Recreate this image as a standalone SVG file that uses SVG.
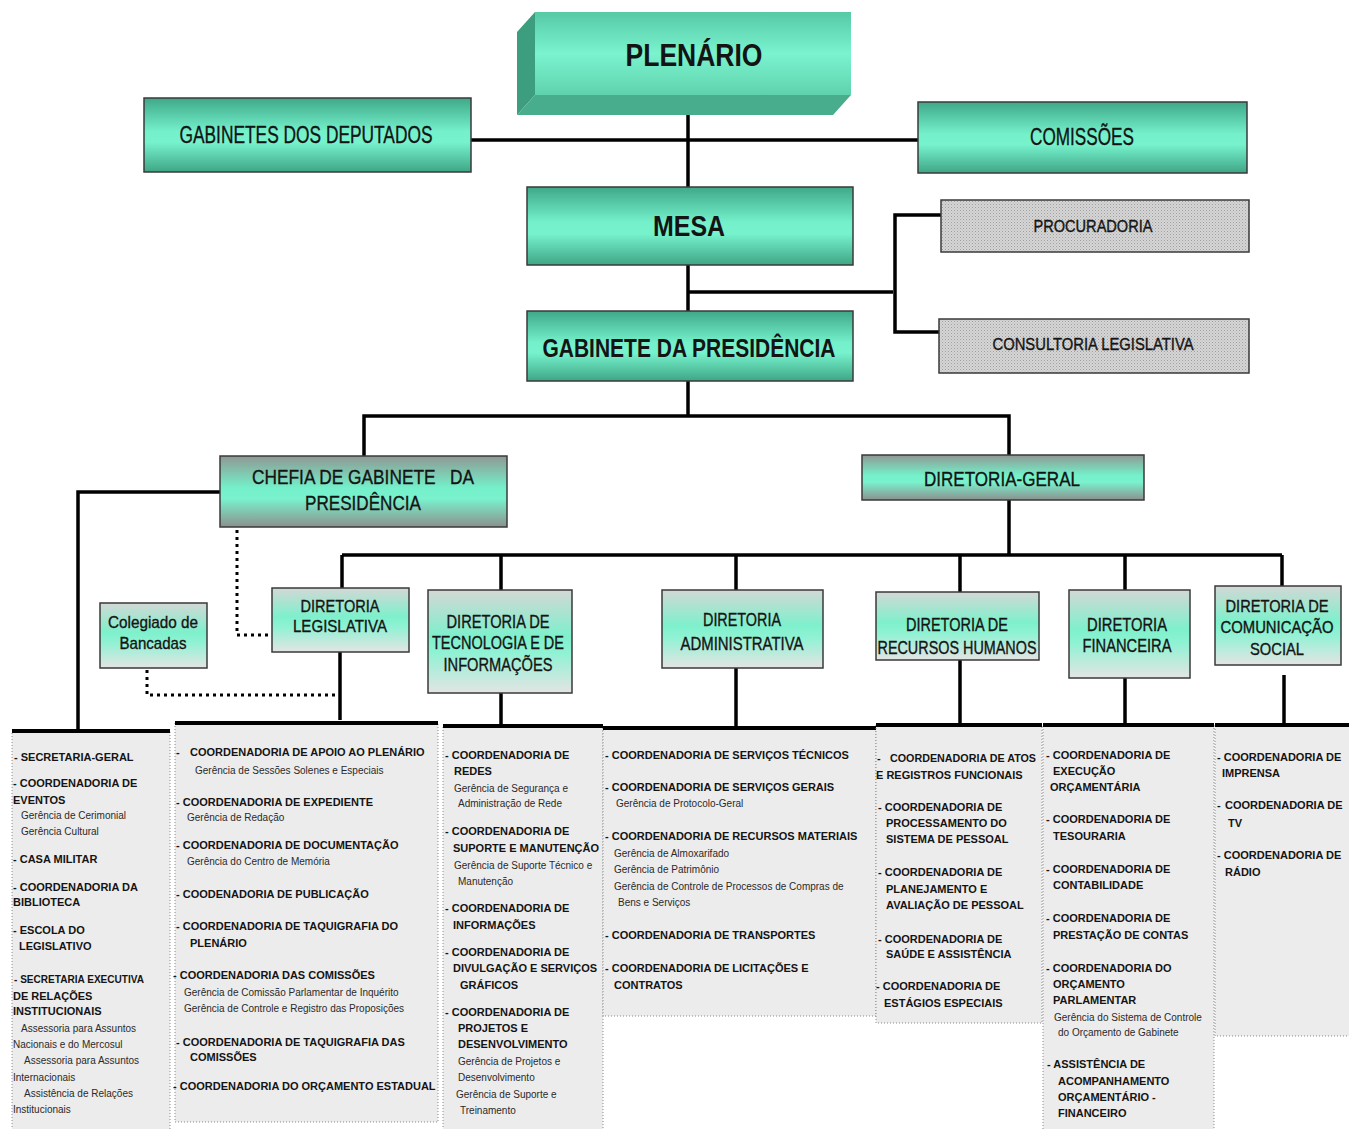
<svg xmlns="http://www.w3.org/2000/svg" width="1349" height="1129" viewBox="0 0 1349 1129">
<style>
text{font-family:"Liberation Sans",Arial,sans-serif;fill:#141414}
.hd{text-anchor:middle;stroke:#141414;stroke-width:0.35}
.bb{font-weight:bold;stroke:none}
.b{font-weight:bold;font-size:11px}
.g{font-size:10px;fill:#2a2a2a}
.box{stroke:#3a3a3a;stroke-width:1.5}
.c{fill:none;stroke:#000;stroke-width:3.5}
.d{fill:none;stroke:#000;stroke-width:3;stroke-dasharray:3 4}
.col{fill:#ececec;stroke:#8a8a8a;stroke-width:1;stroke-dasharray:1 2}
.top{stroke:#000;stroke-width:4}
</style>
<defs>
<linearGradient id="gTop" x1="0" y1="0" x2="0" y2="1">
<stop offset="0" stop-color="#3fa889"/><stop offset="0.45" stop-color="#74f0ca"/><stop offset="0.6" stop-color="#76f2cc"/><stop offset="1" stop-color="#3fa585"/>
</linearGradient>
<linearGradient id="gPl" x1="0" y1="0" x2="0" y2="1">
<stop offset="0" stop-color="#56c9a5"/><stop offset="0.5" stop-color="#7af3ce"/><stop offset="1" stop-color="#5fd2ad"/>
</linearGradient>
<linearGradient id="gMid" x1="0" y1="0" x2="0" y2="1">
<stop offset="0" stop-color="#8f9893"/><stop offset="0.45" stop-color="#74f0ca"/><stop offset="0.6" stop-color="#79f2cd"/><stop offset="1" stop-color="#8c908e"/>
</linearGradient>
<linearGradient id="gLow" x1="0" y1="0" x2="0" y2="1">
<stop offset="0" stop-color="#d3d8d5"/><stop offset="0.45" stop-color="#7ef0cc"/><stop offset="0.6" stop-color="#8ef2d3"/><stop offset="1" stop-color="#e4e4e4"/>
</linearGradient>
<pattern id="dots" width="3" height="3" patternUnits="userSpaceOnUse">
<rect width="3" height="3" fill="#d6d6d6"/><rect width="1" height="1" fill="#9e9e9e"/><rect x="1.5" y="1.5" width="1" height="1" fill="#b0b0b0"/>
</pattern>
</defs>

<g id="connectors">
<line class="c" x1="688" y1="112" x2="688" y2="187"/>
<line class="c" x1="471" y1="140" x2="918" y2="140"/>
<line class="c" x1="688" y1="265" x2="688" y2="311"/>
<line class="c" x1="688" y1="292" x2="893" y2="292"/>
<polyline class="c" points="941,215 895,215 895,332 939,332"/>
<line class="c" x1="688" y1="381" x2="688" y2="416"/>
<polyline class="c" points="364,456 364,416 1009,416 1009,455"/>
<polyline class="c" points="220,492 78,492 78,729"/>
<polyline class="d" points="237,530 237,635 270,635"/>
<line class="c" x1="1009" y1="500" x2="1009" y2="555"/>
<line class="c" x1="342" y1="555" x2="1282" y2="555"/>
<line class="c" x1="342" y1="555" x2="342" y2="588"/>
<line class="c" x1="501" y1="555" x2="501" y2="590"/>
<line class="c" x1="736" y1="555" x2="736" y2="590"/>
<line class="c" x1="960" y1="555" x2="960" y2="592"/>
<line class="c" x1="1125" y1="555" x2="1125" y2="590"/>
<line class="c" x1="1282" y1="555" x2="1282" y2="586"/>
<polyline class="d" points="147,670 147,695 336,695"/>
<line class="c" x1="340" y1="652" x2="340" y2="720"/>
<line class="c" x1="501" y1="693" x2="501" y2="725"/>
<line class="c" x1="736" y1="668" x2="736" y2="727"/>
<line class="c" x1="960" y1="660" x2="960" y2="724"/>
<line class="c" x1="1125" y1="678" x2="1125" y2="725"/>
<line class="c" x1="1284" y1="675" x2="1284" y2="725"/>
</g>

<g id="plenario">
<polygon points="535,12 517,32 517,115 535,95" fill="#3c9e7f"/>
<polygon points="535,95 851,95 833,115 517,115" fill="#47ad8c"/>
<rect x="535" y="12" width="316" height="83" fill="url(#gPl)"/>
<text class="hd bb" x="694" y="66" font-size="31" textLength="137" lengthAdjust="spacingAndGlyphs">PLENÁRIO</text>
</g>

<g id="gabinetes-deputados">
<rect class="box" x="144" y="98" width="327" height="74" fill="url(#gTop)"/>
<text class="hd" x="306" y="143" font-size="23" textLength="253" lengthAdjust="spacingAndGlyphs">GABINETES DOS DEPUTADOS</text>
</g>

<g id="comissoes">
<rect class="box" x="918" y="102" width="329" height="71" fill="url(#gTop)"/>
<text class="hd" x="1082" y="145" font-size="23" textLength="104" lengthAdjust="spacingAndGlyphs">COMISSÕES</text>
</g>

<g id="mesa">
<rect class="box" x="527" y="187" width="326" height="78" fill="url(#gTop)"/>
<text class="hd bb" x="689" y="236" font-size="29" textLength="72" lengthAdjust="spacingAndGlyphs">MESA</text>
</g>

<g id="procuradoria">
<rect class="box" x="941" y="200" width="308" height="52" fill="url(#dots)" stroke-width="1"/>
<text class="hd" x="1093" y="232" font-size="16" textLength="119" lengthAdjust="spacingAndGlyphs">PROCURADORIA</text>
</g>

<g id="consultoria">
<rect class="box" x="939" y="319" width="310" height="54" fill="url(#dots)" stroke-width="1"/>
<text class="hd" x="1093" y="350" font-size="16" textLength="201" lengthAdjust="spacingAndGlyphs">CONSULTORIA LEGISLATIVA</text>
</g>

<g id="gabinete-presidencia">
<rect class="box" x="527" y="311" width="326" height="70" fill="url(#gTop)"/>
<text class="hd bb" x="689" y="357" font-size="26" textLength="293" lengthAdjust="spacingAndGlyphs">GABINETE DA PRESIDÊNCIA</text>
</g>

<g id="chefia">
<rect class="box" x="220" y="456" width="287" height="71" fill="url(#gMid)"/>
<text class="hd" x="363" y="484" font-size="21" textLength="222" lengthAdjust="spacingAndGlyphs" style="white-space:pre">CHEFIA DE GABINETE   DA</text>
<text class="hd" x="363" y="510" font-size="21" textLength="116" lengthAdjust="spacingAndGlyphs">PRESIDÊNCIA</text>
</g>

<g id="diretoria-geral">
<rect class="box" x="862" y="455" width="282" height="45" fill="url(#gMid)"/>
<text class="hd" x="1002" y="486" font-size="21" textLength="156" lengthAdjust="spacingAndGlyphs">DIRETORIA-GERAL</text>
</g>

<g id="colegiado">
<rect class="box" x="100" y="603" width="107" height="65" fill="url(#gLow)"/>
<text class="hd" x="153" y="628" font-size="17" textLength="90" lengthAdjust="spacingAndGlyphs">Colegiado de</text>
<text class="hd" x="153" y="649" font-size="17" textLength="67" lengthAdjust="spacingAndGlyphs">Bancadas</text>
</g>

<g id="dir-legislativa">
<rect class="box" x="272" y="588" width="137" height="64" fill="url(#gLow)"/>
<text class="hd" x="340" y="612" font-size="17" textLength="79" lengthAdjust="spacingAndGlyphs">DIRETORIA</text>
<text class="hd" x="340" y="632" font-size="17" textLength="94" lengthAdjust="spacingAndGlyphs">LEGISLATIVA</text>
</g>

<g id="dir-tecnologia">
<rect class="box" x="428" y="590" width="144" height="103" fill="url(#gLow)"/>
<text class="hd" x="498" y="628" font-size="18" textLength="103" lengthAdjust="spacingAndGlyphs">DIRETORIA DE</text>
<text class="hd" x="498" y="649" font-size="18" textLength="132" lengthAdjust="spacingAndGlyphs">TECNOLOGIA E DE</text>
<text class="hd" x="498" y="671" font-size="18" textLength="109" lengthAdjust="spacingAndGlyphs">INFORMAÇÕES</text>
</g>

<g id="dir-administrativa">
<rect class="box" x="662" y="590" width="161" height="78" fill="url(#gLow)"/>
<text class="hd" x="742" y="626" font-size="18" textLength="78" lengthAdjust="spacingAndGlyphs">DIRETORIA</text>
<text class="hd" x="742" y="650" font-size="18" textLength="123" lengthAdjust="spacingAndGlyphs">ADMINISTRATIVA</text>
</g>

<g id="dir-rh">
<rect class="box" x="876" y="592" width="163" height="68" fill="url(#gLow)"/>
<text class="hd" x="957" y="631" font-size="18" textLength="102" lengthAdjust="spacingAndGlyphs">DIRETORIA DE</text>
<text class="hd" x="957" y="654" font-size="18" textLength="159" lengthAdjust="spacingAndGlyphs">RECURSOS HUMANOS</text>
</g>

<g id="dir-financeira">
<rect class="box" x="1069" y="590" width="121" height="88" fill="url(#gLow)"/>
<text class="hd" x="1127" y="631" font-size="18" textLength="80" lengthAdjust="spacingAndGlyphs">DIRETORIA</text>
<text class="hd" x="1127" y="652" font-size="18" textLength="89" lengthAdjust="spacingAndGlyphs">FINANCEIRA</text>
</g>

<g id="dir-comunicacao">
<rect class="box" x="1215" y="586" width="126" height="79" fill="url(#gLow)"/>
<text class="hd" x="1277" y="612" font-size="16.5" textLength="103" lengthAdjust="spacingAndGlyphs">DIRETORIA DE</text>
<text class="hd" x="1277" y="633" font-size="16" textLength="113" lengthAdjust="spacingAndGlyphs">COMUNICAÇÃO</text>
<text class="hd" x="1277" y="655" font-size="17" textLength="54" lengthAdjust="spacingAndGlyphs">SOCIAL</text>
</g>

<g id="col-chefia">
<rect class="col" x="12" y="731" width="158" height="400"/>
<line class="top" x1="12" y1="731" x2="170" y2="731"/>
<text class="b" x="14" y="761">- SECRETARIA-GERAL</text>
<text class="b" x="13" y="787">- COORDENADORIA  DE</text>
<text class="b" x="13" y="804">EVENTOS</text>
<text class="g" x="21" y="819">Gerência de Cerimonial</text>
<text class="g" x="21" y="835">Gerência Cultural</text>
<text class="b" x="13" y="863">- CASA MILITAR</text>
<text class="b" x="13" y="891">- COORDENADORIA DA</text>
<text class="b" x="13" y="906">BIBLIOTECA</text>
<text class="b" x="13" y="934">- ESCOLA DO</text>
<text class="b" x="19" y="950">LEGISLATIVO</text>
<text class="b" x="14" y="983" textLength="130" lengthAdjust="spacingAndGlyphs">- SECRETARIA EXECUTIVA</text>
<text class="b" x="13" y="1000">DE RELAÇÕES</text>
<text class="b" x="13" y="1015">INSTITUCIONAIS</text>
<text class="g" x="21" y="1032">Assessoria para Assuntos</text>
<text class="g" x="13" y="1048">Nacionais e do Mercosul</text>
<text class="g" x="24" y="1064">Assessoria para Assuntos</text>
<text class="g" x="13" y="1081">Internacionais</text>
<text class="g" x="24" y="1097">Assistência de Relações</text>
<text class="g" x="13" y="1113">Institucionais</text>
</g>

<g id="col-legislativa">
<rect class="col" x="175" y="723" width="263" height="399"/>
<line class="top" x1="175" y1="723" x2="438" y2="723"/>
<text class="b" x="176" y="756">-</text>
<text class="b" x="190" y="756">COORDENADORIA DE APOIO AO PLENÁRIO</text>
<text class="g" x="195" y="774">Gerência de Sessões Solenes e Especiais</text>
<text class="b" x="176" y="806">- COORDENADORIA  DE  EXPEDIENTE</text>
<text class="g" x="187" y="821">Gerência de Redação</text>
<text class="b" x="176" y="849">- COORDENADORIA DE DOCUMENTAÇÃO</text>
<text class="g" x="187" y="865">Gerência do Centro de Memória</text>
<text class="b" x="176" y="898">- COODENADORIA DE PUBLICAÇÃO</text>
<text class="b" x="176" y="930">- COORDENADORIA DE TAQUIGRAFIA DO</text>
<text class="b" x="190" y="947">PLENÁRIO</text>
<text class="b" x="173" y="979">- COORDENADORIA DAS COMISSÕES</text>
<text class="g" x="184" y="996">Gerência de Comissão Parlamentar de Inquérito</text>
<text class="g" x="184" y="1012">Gerência de Controle e Registro das Proposições</text>
<text class="b" x="176" y="1046">- COORDENADORIA DE TAQUIGRAFIA DAS</text>
<text class="b" x="190" y="1061">COMISSÕES</text>
<text class="b" x="173" y="1090">- COORDENADORIA DO ORÇAMENTO ESTADUAL</text>
</g>

<g id="col-tecnologia">
<rect class="col" x="443" y="726" width="160" height="405"/>
<line class="top" x1="443" y1="726" x2="603" y2="726"/>
<text class="b" x="445" y="759">- COORDENADORIA DE</text>
<text class="b" x="454" y="775">REDES</text>
<text class="g" x="454" y="792">Gerência de Segurança e</text>
<text class="g" x="458" y="807">Administração de Rede</text>
<text class="b" x="445" y="835">- COORDENADORIA DE</text>
<text class="b" x="453" y="852">SUPORTE E MANUTENÇÃO</text>
<text class="g" x="454" y="869">Gerência de Suporte Técnico e</text>
<text class="g" x="458" y="885">Manutenção</text>
<text class="b" x="445" y="912">- COORDENADORIA DE</text>
<text class="b" x="453" y="929">INFORMAÇÕES</text>
<text class="b" x="445" y="956">- COORDENADORIA DE</text>
<text class="b" x="453" y="972">DIVULGAÇÃO E SERVIÇOS</text>
<text class="b" x="460" y="989">GRÁFICOS</text>
<text class="b" x="445" y="1016">- COORDENADORIA DE</text>
<text class="b" x="458" y="1032">PROJETOS E</text>
<text class="b" x="458" y="1048">DESENVOLVIMENTO</text>
<text class="g" x="458" y="1065">Gerência de Projetos e</text>
<text class="g" x="458" y="1081">Desenvolvimento</text>
<text class="g" x="456" y="1098">Gerência de Suporte e</text>
<text class="g" x="460" y="1114">Treinamento</text>
</g>

<g id="col-administrativa">
<rect class="col" x="603" y="728" width="273" height="288"/>
<line class="top" x1="603" y1="728" x2="876" y2="728"/>
<text class="b" x="605" y="759">- COORDENADORIA DE SERVIÇOS TÉCNICOS</text>
<text class="b" x="605" y="791">- COORDENADORIA DE  SERVIÇOS GERAIS</text>
<text class="g" x="616" y="807">Gerência de Protocolo-Geral</text>
<text class="b" x="605" y="840">- COORDENADORIA  DE  RECURSOS MATERIAIS</text>
<text class="g" x="614" y="857">Gerência de Almoxarifado</text>
<text class="g" x="614" y="873">Gerência de Patrimônio</text>
<text class="g" x="614" y="890">Gerência de Controle de Processos de Compras de</text>
<text class="g" x="618" y="906">Bens e Serviços</text>
<text class="b" x="605" y="939">- COORDENADORIA DE TRANSPORTES</text>
<text class="b" x="605" y="972">- COORDENADORIA DE LICITAÇÕES E</text>
<text class="b" x="614" y="989">CONTRATOS</text>
</g>

<g id="col-rh">
<rect class="col" x="876" y="725" width="166" height="298"/>
<line class="top" x1="876" y1="725" x2="1042" y2="725"/>
<text class="b" x="877" y="762">-</text>
<text class="b" x="890" y="762" textLength="146" lengthAdjust="spacingAndGlyphs">COORDENADORIA DE ATOS</text>
<text class="b" x="876" y="779">E REGISTROS FUNCIONAIS</text>
<text class="b" x="878" y="811">- COORDENADORIA DE</text>
<text class="b" x="886" y="827">PROCESSAMENTO DO</text>
<text class="b" x="886" y="843">SISTEMA  DE  PESSOAL</text>
<text class="b" x="878" y="876">- COORDENADORIA DE</text>
<text class="b" x="886" y="893">PLANEJAMENTO E</text>
<text class="b" x="886" y="909">AVALIAÇÃO DE PESSOAL</text>
<text class="b" x="878" y="943">- COORDENADORIA DE</text>
<text class="b" x="886" y="958">SAÚDE E ASSISTÊNCIA</text>
<text class="b" x="876" y="990">- COORDENADORIA DE</text>
<text class="b" x="884" y="1007">ESTÁGIOS ESPECIAIS</text>
</g>

<g id="col-financeira">
<rect class="col" x="1043" y="725" width="171" height="406"/>
<line class="top" x1="1043" y1="725" x2="1214" y2="725"/>
<text class="b" x="1046" y="759">- COORDENADORIA DE</text>
<text class="b" x="1053" y="775">EXECUÇÃO</text>
<text class="b" x="1050" y="791">ORÇAMENTÁRIA</text>
<text class="b" x="1046" y="823">- COORDENADORIA DE</text>
<text class="b" x="1053" y="840">TESOURARIA</text>
<text class="b" x="1046" y="873">- COORDENADORIA DE</text>
<text class="b" x="1053" y="889">CONTABILIDADE</text>
<text class="b" x="1046" y="922">- COORDENADORIA DE</text>
<text class="b" x="1053" y="939">PRESTAÇÃO DE CONTAS</text>
<text class="b" x="1046" y="972">- COORDENADORIA DO</text>
<text class="b" x="1053" y="988">ORÇAMENTO</text>
<text class="b" x="1053" y="1004">PARLAMENTAR</text>
<text class="g" x="1054" y="1021">Gerência do Sistema de Controle</text>
<text class="g" x="1058" y="1036">do Orçamento de Gabinete</text>
<text class="b" x="1047" y="1068">- ASSISTÊNCIA DE</text>
<text class="b" x="1058" y="1085">ACOMPANHAMENTO</text>
<text class="b" x="1058" y="1101">ORÇAMENTÁRIO -</text>
<text class="b" x="1058" y="1117">FINANCEIRO</text>
</g>

<g id="col-comunicacao">
<rect class="col" x="1215" y="725" width="140" height="311"/>
<line class="top" x1="1215" y1="725" x2="1349" y2="725"/>
<text class="b" x="1217" y="761">- COORDENADORIA DE</text>
<text class="b" x="1222" y="777">IMPRENSA</text>
<text class="b" x="1217" y="809">-</text>
<text class="b" x="1225" y="809">COORDENADORIA DE</text>
<text class="b" x="1228" y="827">TV</text>
<text class="b" x="1217" y="859">- COORDENADORIA DE</text>
<text class="b" x="1225" y="876">RÁDIO</text>
</g>
</svg>
